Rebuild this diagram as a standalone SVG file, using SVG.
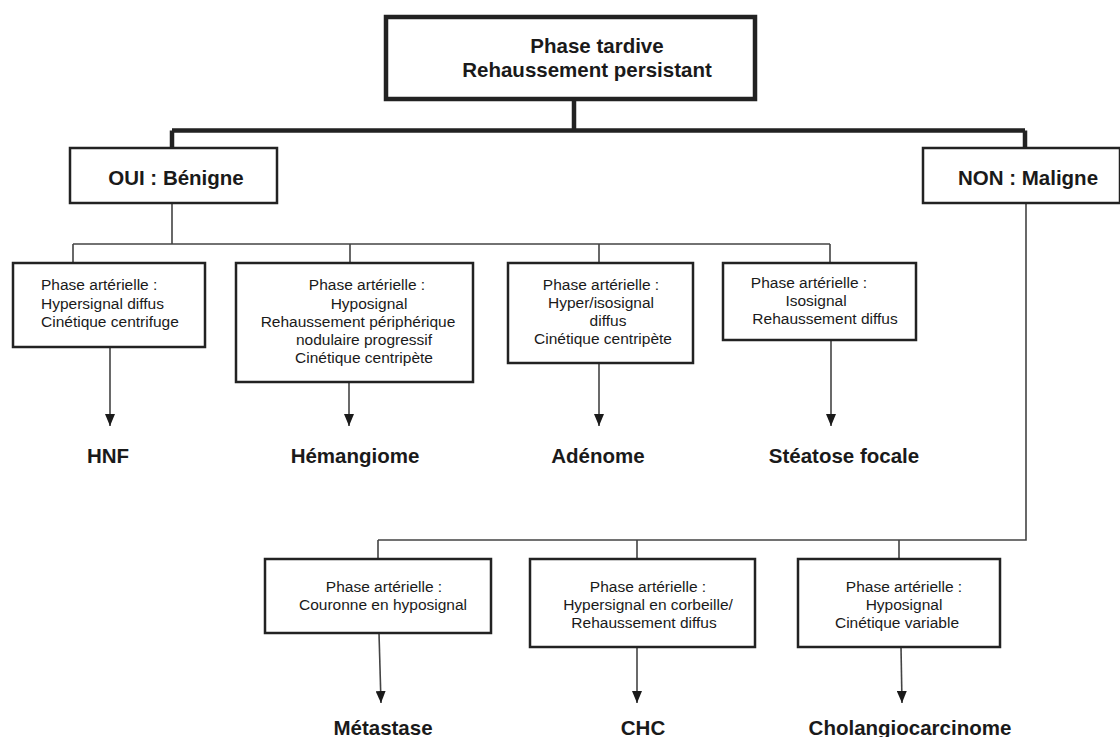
<svg xmlns="http://www.w3.org/2000/svg" width="1120" height="737" viewBox="0 0 1120 737">
<style>
text{font-family:"Liberation Sans",Arial,Helvetica,sans-serif;fill:#1a1a1a}
.t{font-size:15.5px}
.h{font-size:20.5px;font-weight:bold}
.lab{font-size:20.5px;font-weight:bold;text-anchor:middle}
.c{text-anchor:middle}
.box{fill:#fff;stroke:#222;stroke-width:2.5}
.big{fill:#fff;stroke:#222;stroke-width:4.5}
.thick{fill:none;stroke:#222;stroke-width:4.5}
.thin{fill:none;stroke:#444;stroke-width:1.6}
</style>
<defs>
<marker id="ah" viewBox="0 0 12 10" refX="12" refY="5" markerWidth="12" markerHeight="10" markerUnits="userSpaceOnUse" orient="auto">
<path d="M0,0 L12,5 L0,10 z" fill="#1a1a1a"/>
</marker>
</defs>
<rect width="1120" height="737" fill="#fff"/>
<g id="connectors">
<path class="thick" d="M574,99 V130.5 M172,130.5 H1025 M172,130.5 V148 M1025,130.5 V148"/>
<path class="thin" d="M172,203 V244 M73,244 H830 M73,244 V263 M350,244 V263 M599,244 V263 M830,244 V263"/>
<path class="thin" d="M1026,203 V540 H378 M378,540 V559 M637,540 V559 M899,540 V559"/>
<path class="thin" marker-end="url(#ah)" d="M110,347 V426"/>
<path class="thin" marker-end="url(#ah)" d="M349,382 V426"/>
<path class="thin" marker-end="url(#ah)" d="M599,363 V426"/>
<path class="thin" marker-end="url(#ah)" d="M831,340 V426"/>
<path class="thin" marker-end="url(#ah)" d="M379,633 L381,703"/>
<path class="thin" marker-end="url(#ah)" d="M637,647 V703"/>
<path class="thin" marker-end="url(#ah)" d="M901,647 L902,703"/>
</g>
<g id="top">
<rect class="big" x="386" y="17" width="369" height="82"/>
<text class="h c" x="597" y="53">Phase tardive</text>
<text class="h c" x="587" y="77">Rehaussement persistant</text>
</g>
<g id="oui">
<rect class="box" x="70" y="148" width="207" height="55"/>
<text class="h c" x="176" y="185">OUI : Bénigne</text>
</g>
<g id="non">
<rect class="box" x="923" y="148" width="197" height="55"/>
<text class="h c" x="1028" y="185">NON : Maligne</text>
</g>
<g id="b1">
<rect class="box" x="13" y="263" width="192" height="84"/>
<text class="t" x="41" y="290">Phase artérielle :</text>
<text class="t" x="41" y="308.5">Hypersignal diffus</text>
<text class="t" x="41" y="327">Cinétique centrifuge</text>
</g>
<g id="b2">
<rect class="box" x="236" y="263" width="237" height="119"/>
<text class="t c" x="367" y="290">Phase artérielle :</text>
<text class="t c" x="369" y="308.5">Hyposignal</text>
<text class="t c" x="358" y="327">Rehaussement périphérique</text>
<text class="t c" x="364" y="345">nodulaire progressif</text>
<text class="t c" x="364" y="363">Cinétique centripète</text>
</g>
<g id="b3">
<rect class="box" x="508" y="263" width="185" height="100"/>
<text class="t c" x="601" y="290">Phase artérielle :</text>
<text class="t c" x="601" y="308">Hyper/isosignal</text>
<text class="t c" x="608" y="326">diffus</text>
<text class="t c" x="603" y="344">Cinétique centripète</text>
</g>
<g id="b4">
<rect class="box" x="723" y="263" width="193" height="77"/>
<text class="t c" x="809" y="288">Phase artérielle :</text>
<text class="t c" x="816" y="306">Isosignal</text>
<text class="t c" x="825" y="324">Rehaussement diffus</text>
</g>
<g id="b5">
<rect class="box" x="265" y="559" width="226" height="74"/>
<text class="t c" x="384" y="592">Phase artérielle :</text>
<text class="t c" x="383" y="610">Couronne en hyposignal</text>
</g>
<g id="b6">
<rect class="box" x="530" y="559" width="225" height="88"/>
<text class="t c" x="648" y="592">Phase artérielle :</text>
<text class="t c" x="648" y="610">Hypersignal en corbeille/</text>
<text class="t c" x="644" y="628">Rehaussement diffus</text>
</g>
<g id="b7">
<rect class="box" x="798" y="559" width="202" height="88"/>
<text class="t c" x="904" y="592">Phase artérielle :</text>
<text class="t c" x="904" y="610">Hyposignal</text>
<text class="t c" x="897" y="628">Cinétique variable</text>
</g>
<g id="labels">
<text class="lab" x="108" y="463">HNF</text>
<text class="lab" x="355" y="463">Hémangiome</text>
<text class="lab" x="598" y="463">Adénome</text>
<text class="lab" x="844" y="463">Stéatose focale</text>
<text class="lab" x="383" y="735">Métastase</text>
<text class="lab" x="643" y="735">CHC</text>
<text class="lab" x="910" y="735">Cholangiocarcinome</text>
</g>
</svg>
